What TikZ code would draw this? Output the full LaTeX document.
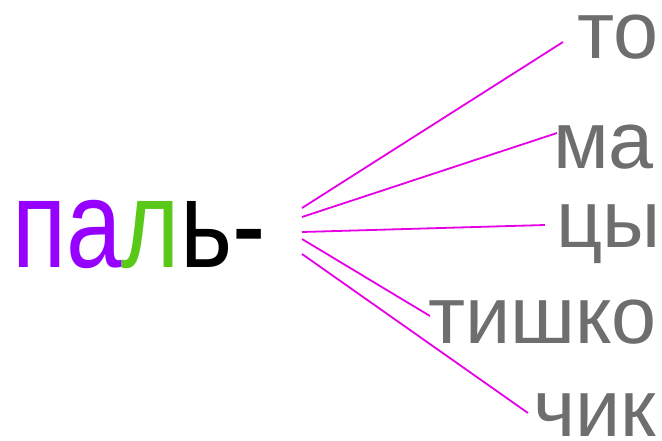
\documentclass[tikz,border=0pt]{standalone}
\usepackage{fontspec}
\setmainfont{Liberation Sans}
\usepackage{xcolor}
\usetikzlibrary{positioning,calc}
\definecolor{violet}{RGB}{150,0,255}
\definecolor{leaf}{RGB}{90,200,25}
\definecolor{ash}{RGB}{110,110,110}
\definecolor{pink}{RGB}{230,0,230}
\tikzset{
  ending/.style={ash,font=\fontsize{81}{81}\selectfont,anchor=base west,inner sep=0pt},
  fan/.style={pink,line width=1.8pt}
}

\begin{document}
\begin{tikzpicture}[x=1pt,y=-1pt]
\useasboundingbox (0,0) rectangle (662,440);
% stem
\node[font=\fontsize{125}{125}\selectfont,anchor=base west,inner sep=0pt] (stem) at (12,267)
  {\scalebox{0.8}[1]{{\color{violet}па}{\color{leaf}л}ь-}};
% endings
\node[ending] (to) at (577,58) {то};
\node[ending] (ma) at (553,168) {ма};
\node[ending] (cy) at (556,247) {цы};
\node[ending] (tishko) at (428,343) {тишко};
\node[ending] (chik) at (533,436) {чик};
% fan
\foreach \i/\y in {1/208, 2/217, 3/232, 4/239, 5/254}{
  \coordinate (f\i) at (302,\y);
}
\draw[fan] (f1) -- ([shift={(-14pt,16pt)}]to.base west);
\draw[fan] (f2) -- ([shift={(4pt,35pt)}]ma.base west);
\draw[fan] (f3) -- ([shift={(-11pt,22pt)}]cy.base west);
\draw[fan] (f4) -- ([shift={(2pt,27pt)}]tishko.base west);
\draw[fan] (f5) -- ([shift={(-5pt,23pt)}]chik.base west);
\end{tikzpicture}
\end{document}
